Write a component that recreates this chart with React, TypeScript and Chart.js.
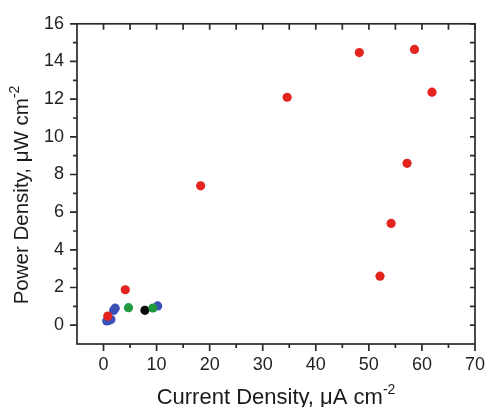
import React, { useEffect, useRef } from "react";
import { Chart, registerables } from "chart.js";

Chart.register(...registerables);

// Data (Current density μA cm^-2, Power density μW cm^-2)
const redX = [18.3, 34.6, 48.2, 58.6, 61.9, 57.2, 54.2, 52.1, 4.1, 0.8];
const redY = [7.4, 12.1, 14.47, 14.64, 12.37, 8.59, 5.4, 2.6, 1.88, 0.48];
const greenX = [4.7, 9.3];
const greenY = [0.93, 0.91];
const blackX = [7.8];
const blackY = [0.79];
const blueX = [0.6, 1.0, 1.4, 1.9, 2.2, 10.2];
const blueY = [0.22, 0.25, 0.3, 0.78, 0.9, 1.02];

const xTicks = [0, 10, 20, 30, 40, 50, 60, 70];
const yTicks = [0, 2, 4, 6, 8, 10, 12, 14, 16];
const xMinor = [-5, 5, 15, 25, 35, 45, 55, 65];
const yMinor = [-1, 1, 3, 5, 7, 9, 11, 13, 15];

const xTitle = "Current Density, \u03BCA cm";
const yTitle = "Power Density, \u03BCW cm";
const titleSup = "-2";

const pts = (xs: number[], ys: number[]) => xs.map((x, i) => ({ x, y: ys[i] }));

const AXIS = "#2a2a2a";
const FONT = "'Liberation Sans', Arial, sans-serif";

const framePlugin = {
  id: "frameTicks",
  afterDraw(chart: any) {
    const { ctx, chartArea } = chart;
    const xs = chart.scales.x;
    const ys = chart.scales.y;
    const { left, right, top, bottom } = chartArea;
    ctx.save();
    ctx.strokeStyle = AXIS;
    ctx.lineWidth = 1.7;
    ctx.strokeRect(left, top, right - left, bottom - top);
    ctx.beginPath();
    const major = 7;
    const minor = 4;
    xTicks.forEach((v) => {
      const p = xs.getPixelForValue(v);
      ctx.moveTo(p, bottom);
      ctx.lineTo(p, bottom + major);
      ctx.moveTo(p, top);
      ctx.lineTo(p, top + 6);
    });
    xMinor.forEach((v) => {
      const p = xs.getPixelForValue(v);
      if (p <= left + 1) return;
      ctx.moveTo(p, bottom);
      ctx.lineTo(p, bottom + minor);
      ctx.moveTo(p, top);
      ctx.lineTo(p, top + 6);
    });
    yTicks.forEach((v) => {
      const p = ys.getPixelForValue(v);
      ctx.moveTo(left, p);
      ctx.lineTo(left - major, p);
      ctx.moveTo(right, p);
      ctx.lineTo(right - 5, p);
    });
    yMinor.forEach((v) => {
      const p = ys.getPixelForValue(v);
      if (p >= bottom - 1) return;
      ctx.moveTo(left, p);
      ctx.lineTo(left - minor, p);
      ctx.moveTo(right, p);
      ctx.lineTo(right - 5, p);
    });
    ctx.stroke();

    // axis titles with a real superscript
    const mainFont = `22px ${FONT}`;
    const supFont = `14px ${FONT}`;
    ctx.fillStyle = "#1a1a1a";
    ctx.textBaseline = "alphabetic";
    ctx.textAlign = "left";
    // x title
    ctx.font = mainFont;
    const wMain = ctx.measureText(xTitle).width;
    ctx.font = supFont;
    const wSup = ctx.measureText(titleSup).width;
    const cx = (left + right) / 2;
    const sx = cx - (wMain + wSup) / 2;
    const by = 404;
    ctx.font = mainFont;
    ctx.fillText(xTitle, sx, by);
    ctx.font = supFont;
    ctx.fillText(titleSup, sx + wMain, by - 10);
    // y title
    ctx.translate(28, 195);
    ctx.rotate(-Math.PI / 2);
    ctx.font = `20.5px ${FONT}`;
    const wy = ctx.measureText(yTitle).width;
    ctx.font = supFont;
    const wys = ctx.measureText(titleSup).width;
    const sy = -(wy + wys) / 2;
    ctx.font = `20.5px ${FONT}`;
    ctx.fillText(yTitle, sy, 0);
    ctx.font = supFont;
    ctx.fillText(titleSup, sy + wy, -9);
    ctx.restore();
  },
};

export default function App() {
  const ref = useRef<HTMLCanvasElement>(null);
  useEffect(() => {
    if (!ref.current) return;
    const mk = (label: string, xs: number[], ys: number[], color: string) => ({
      label,
      data: pts(xs, ys),
      backgroundColor: color,
      borderColor: color,
      pointRadius: 4.6,
      pointBorderWidth: 0,
    });
    const chart = new Chart(ref.current, {
      type: "scatter",
      data: {
        datasets: [
          mk("red", redX, redY, "#e3241f"),
          mk("green", greenX, greenY, "#1f9a3e"),
          mk("black", blackX, blackY, "#0a0a0a"),
          mk("blue", blueX, blueY, "#3a52b8"),
        ],
      },
      options: {
        animation: false,
        responsive: true,
        maintainAspectRatio: false,
        layout: { padding: { top: 22, right: 12, left: 0, bottom: 0 } },
        plugins: { legend: { display: false }, tooltip: { enabled: false } },
        scales: {
          x: {
            type: "linear",
            min: -5,
            max: 70,
            grid: { display: false, drawTicks: false },
            border: { display: false },
            afterBuildTicks: (s: any) => {
              s.ticks = xTicks.map((v) => ({ value: v }));
            },
            afterFit: (s: any) => {
              s.height = 63;
            },
            ticks: {
              font: { size: 18, family: FONT },
              color: "#222",
              padding: 10,
              maxRotation: 0,
              autoSkip: false,
            },
          },
          y: {
            type: "linear",
            min: -1,
            max: 16,
            grid: { display: false, drawTicks: false },
            border: { display: false },
            afterBuildTicks: (s: any) => {
              s.ticks = yTicks.map((v) => ({ value: v }));
            },
            afterFit: (s: any) => {
              s.width = 77;
            },
            ticks: {
              font: { size: 18, family: FONT },
              color: "#222",
              padding: 13,
              autoSkip: false,
            },
          },
        },
      },
      plugins: [framePlugin],
    });
    return () => chart.destroy();
  }, []);
  return (
    <div style={{ position: "absolute", left: 0, top: 0, width: 495, height: 407, background: "#fff" }}>
      <canvas ref={ref} />
    </div>
  );
}
